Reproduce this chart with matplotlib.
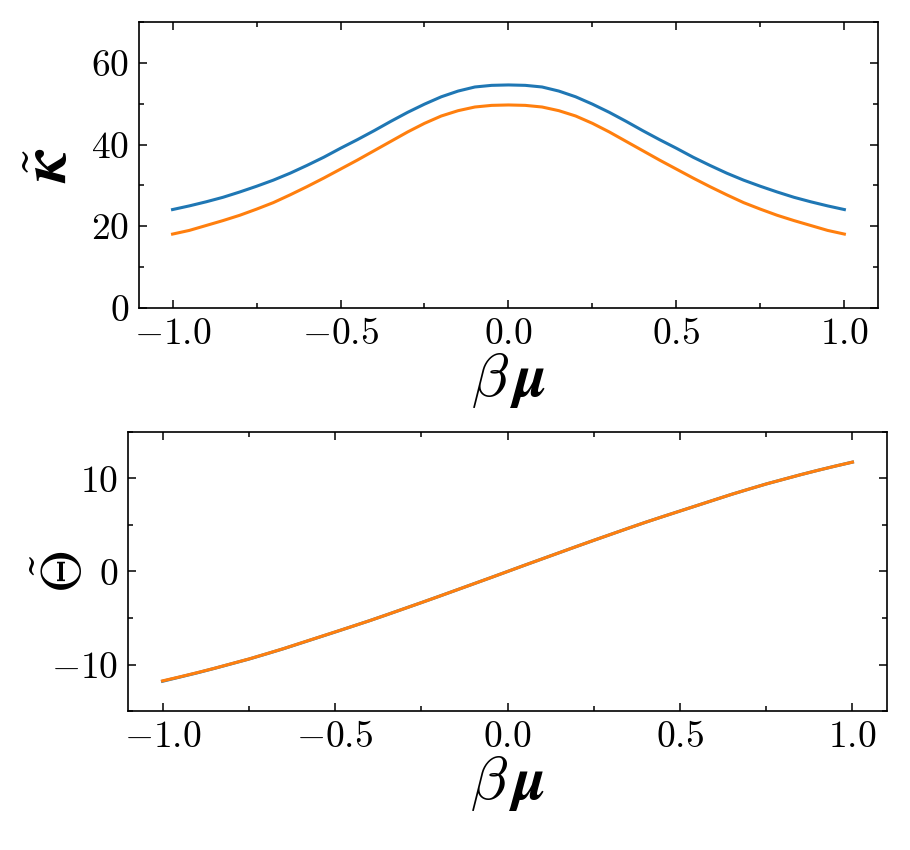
import matplotlib
matplotlib.use("Agg")
import matplotlib.pyplot as plt
from matplotlib.ticker import MultipleLocator

plt.rcParams['mathtext.fontset'] = 'cm'
plt.rcParams['font.family'] = 'serif'
plt.rcParams['font.serif'] = ['cmr10', 'DejaVu Serif']
plt.rcParams['axes.formatter.use_mathtext'] = True

# beta*mu grid (step 0.05)
beta_mu = [-1.0, -0.95, -0.9, -0.85, -0.8, -0.75, -0.7, -0.65, -0.6, -0.55, -0.5,
           -0.45, -0.4, -0.35, -0.3, -0.25, -0.2, -0.15, -0.1, -0.05, 0.0,
           0.05, 0.1, 0.15, 0.2, 0.25, 0.3, 0.35, 0.4, 0.45, 0.5,
           0.55, 0.6, 0.65, 0.7, 0.75, 0.8, 0.85, 0.9, 0.95, 1.0]

# kappa tilde (top panel)
kappa_blue = [24.1, 25.0, 26.0, 27.1, 28.4, 29.8, 31.3, 33.0, 34.9, 36.9, 39.1,
              41.2, 43.4, 45.7, 47.9, 49.9, 51.7, 53.1, 54.1, 54.5, 54.6,
              54.5, 54.1, 53.1, 51.7, 49.9, 47.9, 45.7, 43.4, 41.2, 39.1,
              36.9, 34.9, 33.0, 31.3, 29.8, 28.4, 27.1, 26.0, 25.0, 24.1]
kappa_orange = [18.1, 19.0, 20.2, 21.4, 22.7, 24.2, 25.8, 27.7, 29.7, 31.8, 34.0,
                36.2, 38.5, 40.8, 43.1, 45.2, 47.0, 48.3, 49.2, 49.6, 49.7,
                49.6, 49.2, 48.3, 47.0, 45.2, 43.1, 40.8, 38.5, 36.2, 34.0,
                31.8, 29.7, 27.7, 25.8, 24.2, 22.7, 21.4, 20.2, 19.0, 18.1]

# Theta tilde (bottom panel)
theta_blue = [-11.8, -11.35, -10.9, -10.42, -9.92, -9.42, -8.87, -8.31, -7.71, -7.11, -6.51,
              -5.9, -5.29, -4.65, -4.0, -3.35, -2.69, -2.02, -1.35, -0.68, 0.0,
              0.68, 1.35, 2.02, 2.69, 3.35, 4.0, 4.65, 5.29, 5.9, 6.5,
              7.1, 7.7, 8.3, 8.86, 9.41, 9.91, 10.41, 10.88, 11.33, 11.76]
theta_orange = [-11.76, -11.33, -10.88, -10.41, -9.91, -9.41, -8.86, -8.3, -7.7, -7.1, -6.5,
                -5.9, -5.29, -4.65, -4.0, -3.35, -2.69, -2.02, -1.35, -0.68, 0.0,
                0.68, 1.35, 2.02, 2.69, 3.35, 4.0, 4.65, 5.29, 5.9, 6.5,
                7.1, 7.7, 8.3, 8.86, 9.41, 9.91, 10.41, 10.88, 11.33, 11.76]

fig = plt.figure(figsize=(9.1, 8.5), dpi=100)
ax1 = fig.add_axes([0.1527, 0.6376, 0.8121, 0.3365])
ax2 = fig.add_axes([0.1407, 0.1635, 0.8340, 0.3283])

ax1.plot(beta_mu, kappa_blue, color='#1f77b4', lw=2.2)
ax1.plot(beta_mu, kappa_orange, color='#ff7f0e', lw=2.2)
ax2.plot(beta_mu, theta_blue, color='#1f77b4', lw=2.2)
ax2.plot(beta_mu, theta_orange, color='#ff7f0e', lw=2.2)

ax1.set_xlim(-1.1, 1.1)
ax1.set_ylim(0, 70)
ax1.yaxis.set_major_locator(MultipleLocator(20))
ax1.yaxis.set_minor_locator(MultipleLocator(10))

ax2.set_xlim(-1.1, 1.1)
ax2.set_ylim(-15, 15)
ax2.yaxis.set_major_locator(MultipleLocator(10))
ax2.yaxis.set_minor_locator(MultipleLocator(5))

for ax in (ax1, ax2):
    ax.xaxis.set_major_locator(MultipleLocator(0.5))
    ax.xaxis.set_minor_locator(MultipleLocator(0.25))
    ax.tick_params(which='both', direction='in', top=True, right=True, labelsize=27, width=1.1)
    ax.tick_params(which='major', length=6, pad=7)
    ax.tick_params(which='minor', length=3.5)
    for s in ax.spines.values():
        s.set_linewidth(1.2)
    ax.set_xlabel(r'$\beta\,\boldsymbol{\mu}$', fontsize=44, labelpad=0)

ax1.set_ylabel(r'$\tilde{\boldsymbol{\kappa}}$', fontsize=46)
ax1.yaxis.set_label_coords(-0.08, 0.5)
ax2.set_ylabel(r'$\tilde{\boldsymbol{\Theta}}$', fontsize=40)
ax2.yaxis.set_label_coords(-0.046, 0.5)

fig.savefig('out.png', dpi=100)
